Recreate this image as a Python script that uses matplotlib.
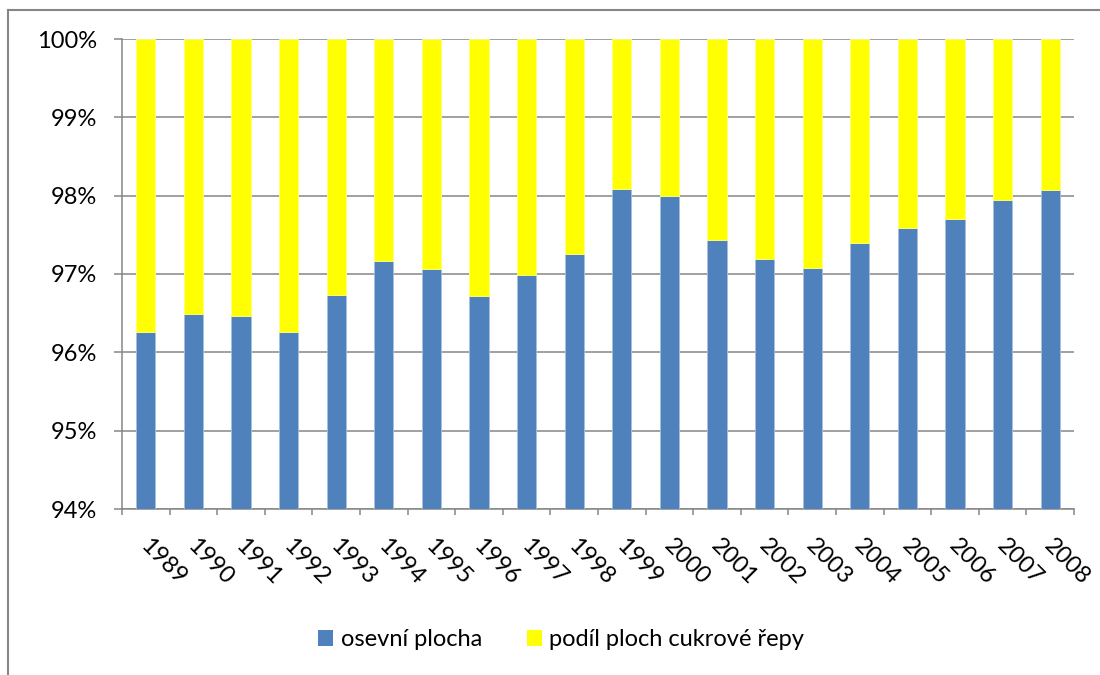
import matplotlib
matplotlib.use("Agg")
import matplotlib.pyplot as plt
import matplotlib.transforms as mtransforms
import numpy as np
from matplotlib.patches import Patch
from matplotlib.lines import Line2D

plt.rcParams["font.family"] = ["Lato", "DejaVu Sans"]

years = [str(y) for y in range(1989, 2009)]
osevni = [96.26, 96.49, 96.46, 96.26, 96.73, 97.16, 97.06, 96.72, 96.99, 97.26,
          98.09, 98.00, 97.43, 97.19, 97.08, 97.40, 97.59, 97.70, 97.94, 98.07]
repa = [100 - v for v in osevni]

BLUE = "#4F81BD"
YELLOW = "#FFFF00"
GRAY = "#868686"

fig = plt.figure(figsize=(11, 6.75), dpi=100)
ax = fig.add_axes([122 / 1100, 1 - 509 / 675, (1074 - 122) / 1100, (509 - 39) / 675])

x = np.arange(len(years))
ax.bar(x, osevni, width=0.4, color=BLUE, edgecolor="#A7BFDE", linewidth=0.6, zorder=3)
ax.bar(x, repa, bottom=osevni, width=0.4, color=YELLOW, edgecolor="#FFFF80",
       linewidth=0.6, zorder=3)

ax.set_xlim(-0.5, len(years) - 0.5)
ax.set_ylim(94, 100)
ax.set_yticks(range(94, 101))
ax.set_yticklabels([f"{v}%" for v in range(94, 101)], fontsize=17)
ax.yaxis.grid(True, color=GRAY, linewidth=1.1, zorder=0)
ax.set_axisbelow(True)

ax.set_xticks(x)
ax.set_xticklabels(years, fontsize=17, rotation=-45, ha="left", va="top",
                   rotation_mode="anchor")
ax.set_xticks(np.arange(-0.5, len(years)), minor=True)
ax.tick_params(axis="x", which="major", length=0, pad=19)
ax.tick_params(axis="x", which="minor", length=4.5, width=1.1, color=GRAY, direction="out")
ax.tick_params(axis="y", length=6, width=1.1, color=GRAY, pad=12)

# nudge the rotated year labels a little to the right
shift = mtransforms.ScaledTranslation(5 / 100, 0, fig.dpi_scale_trans)
for lbl in ax.get_xticklabels():
    lbl.set_transform(lbl.get_transform() + shift)

for s in ("top", "right"):
    ax.spines[s].set_visible(False)
for s in ("left", "bottom"):
    ax.spines[s].set_color(GRAY)
    ax.spines[s].set_linewidth(1.1)

# chart area border (left and top edges visible)
fig.add_artist(Line2D([8 / 1100, 8 / 1100], [-0.01, 1 - 10 / 675], transform=fig.transFigure,
                      color=GRAY, linewidth=1.5))
fig.add_artist(Line2D([8 / 1100, 1.01], [1 - 10 / 675, 1 - 10 / 675], transform=fig.transFigure,
                      color=GRAY, linewidth=1.5))

handles = [Patch(facecolor=BLUE, label="osevní plocha"),
           Patch(facecolor=YELLOW, label="podíl ploch cukrové řepy")]
fig.legend(handles=handles, loc="center", bbox_to_anchor=(0.51, 1 - 640 / 675), ncol=2,
           frameon=False, fontsize=17, handlelength=0.65, handleheight=0.65,
           handletextpad=0.3, columnspacing=1.9)

fig.savefig("out.png", dpi=100)
